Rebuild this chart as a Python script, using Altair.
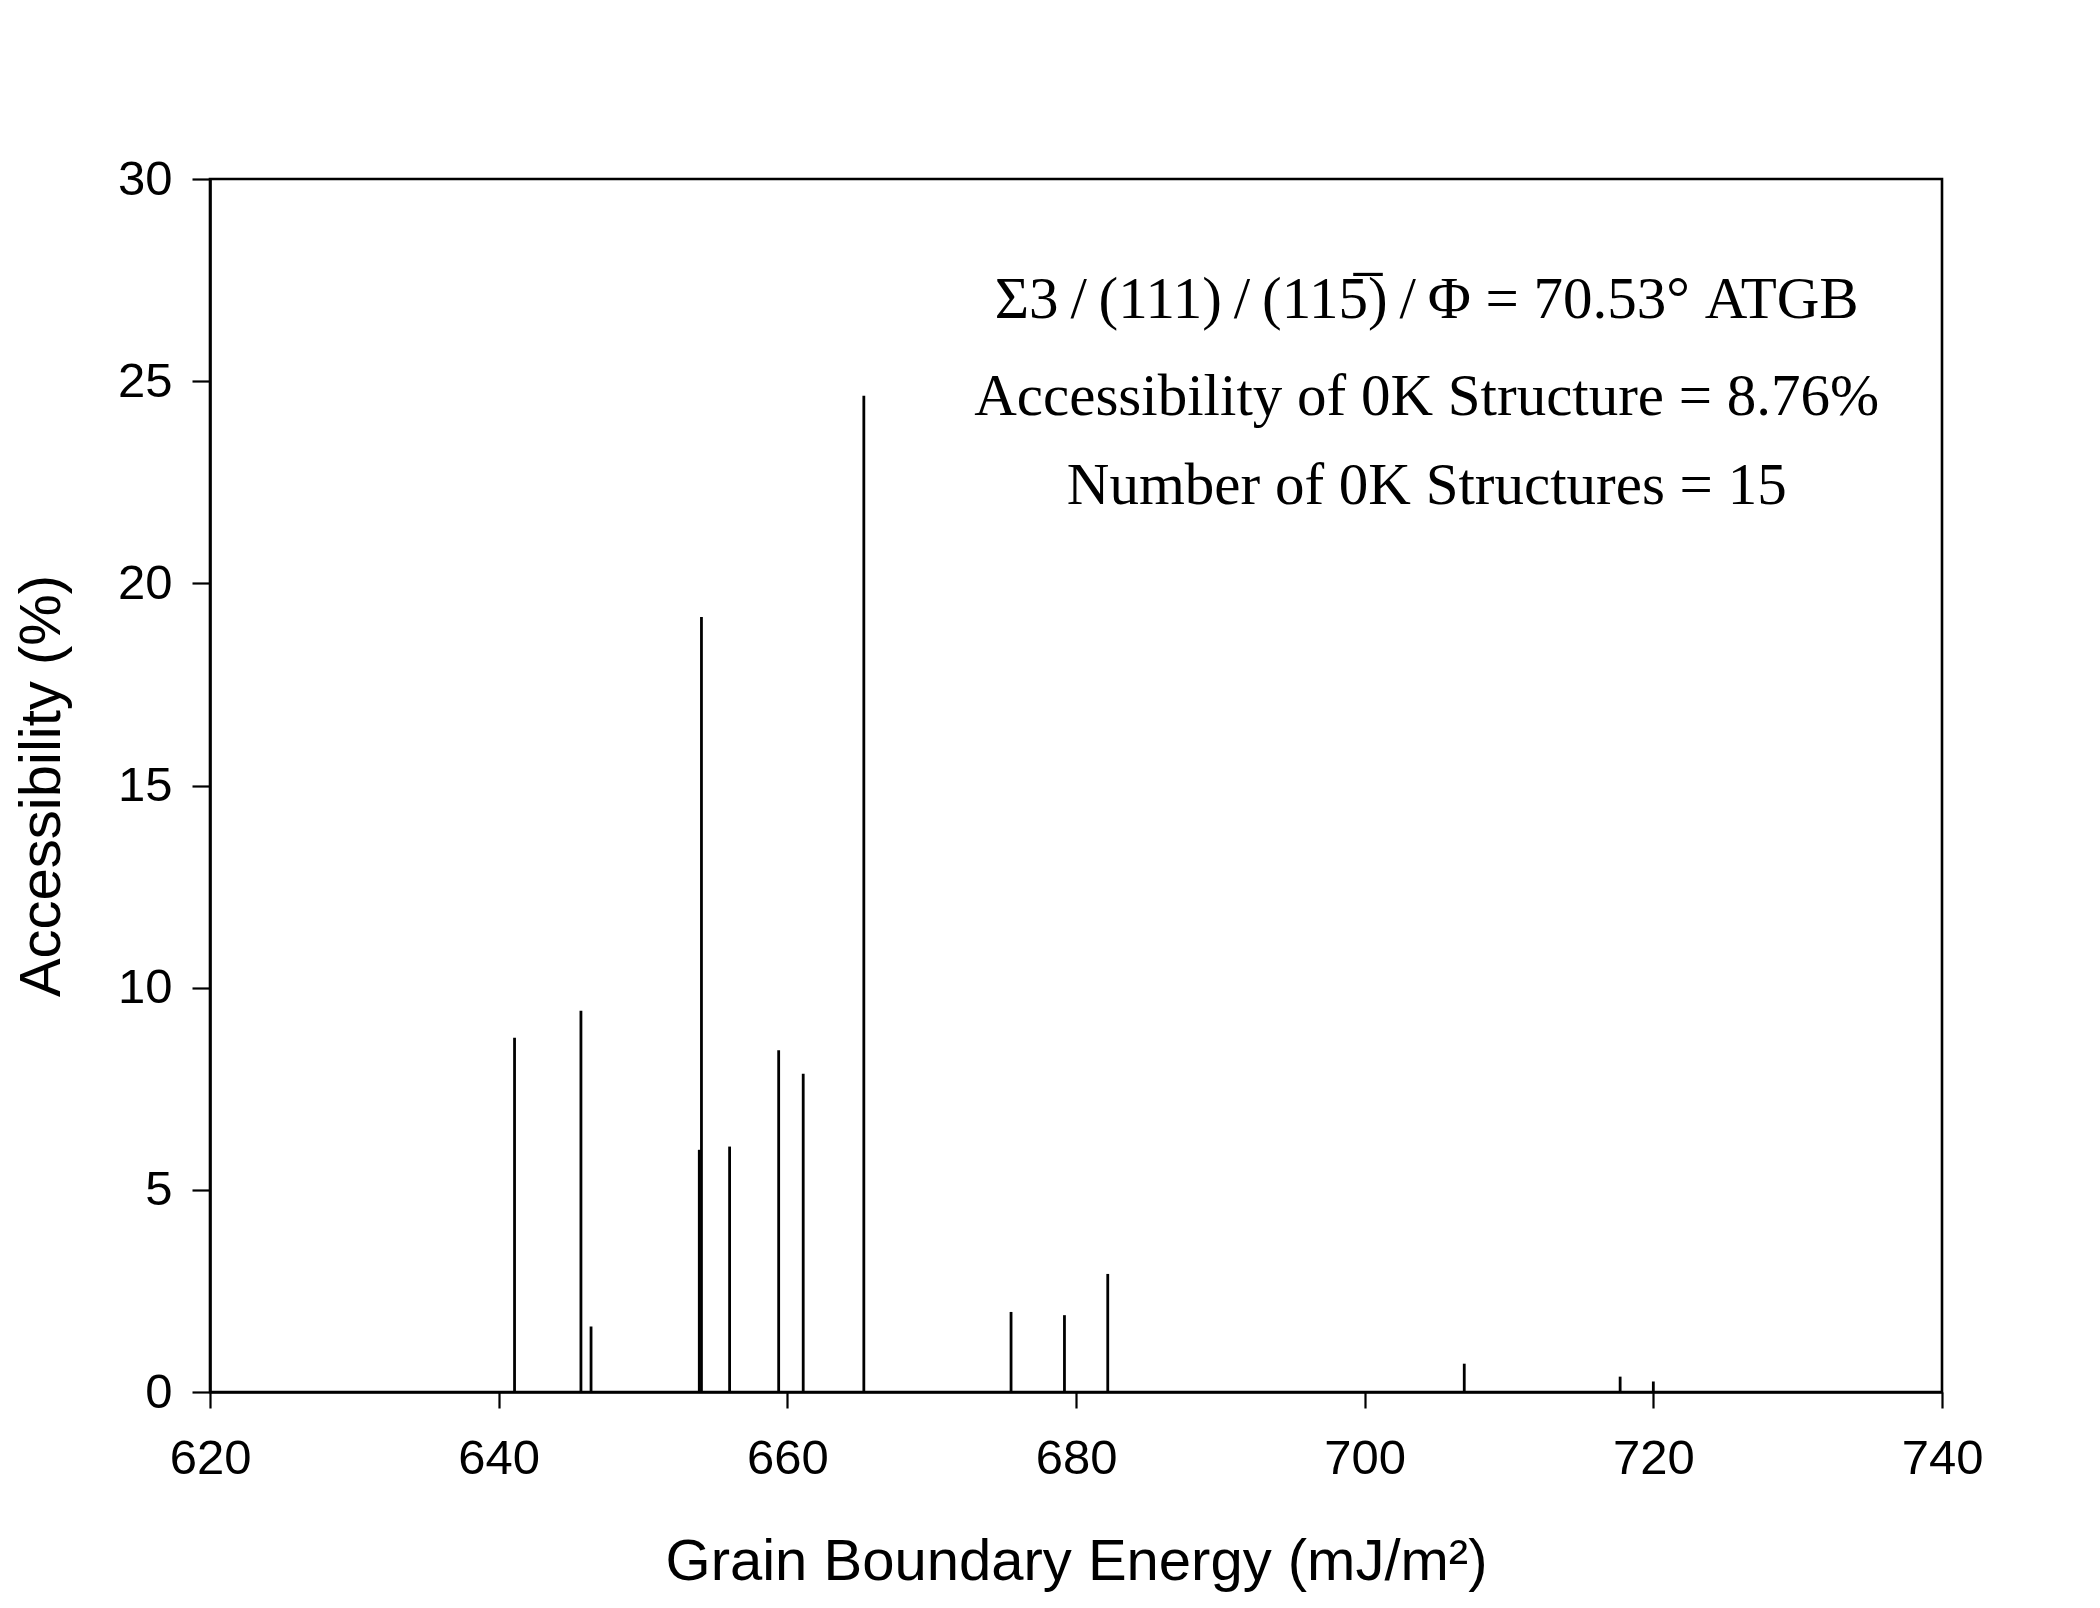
import altair as alt
import pandas as pd

# Data
energy = [641.1, 645.7, 646.4, 653.9, 654.05, 656.0, 659.4, 661.1, 665.3,
          675.5, 679.2, 682.2, 706.9, 717.7, 720.0]
accessibility = [8.76, 9.43, 1.62, 5.99, 19.17, 6.07, 8.45, 7.87, 24.64,
                 1.98, 1.90, 2.92, 0.70, 0.38, 0.26]

note_lines = [
    "Σ3\u2009/\u2009(111)\u2009/\u2009(115\u0305)\u2009/\u2009Φ = 70.53° ATGB",
    "Accessibility of 0K Structure = 8.76%",
    "Number of 0K Structures = 15",
]
note_x = [704.3, 704.3, 704.3]
note_y = [27.0, 24.6, 22.4]

x_ticks = [620, 640, 660, 680, 700, 720, 740]
y_ticks = [0, 5, 10, 15, 20, 25, 30]

df = pd.DataFrame({"energy": energy, "acc": accessibility})
notes = pd.DataFrame({"text": note_lines, "x": note_x, "y": note_y})

sans = "Liberation Sans"
serif = "Liberation Serif"

x_enc = alt.X(
    "energy:Q",
    scale=alt.Scale(domain=[620, 740], nice=False, zero=False),
    axis=alt.Axis(
        values=x_ticks, title="Grain Boundary Energy (mJ/m²)", grid=False,
        labelFont=sans, labelFontSize=49, labelColor="black", labelPadding=26,
        labelFlush=False, labelOverlap=False,
        tickSize=16, tickWidth=2.2, tickColor="black",
        domainColor="black", domainWidth=2.6,
        titleFont=sans, titleFontSize=58, titleFontWeight="normal",
        titleColor="black", titlePadding=50,
    ),
)
y_enc = alt.Y(
    "acc:Q",
    scale=alt.Scale(domain=[0, 30], nice=False),
    axis=alt.Axis(
        values=y_ticks, title="Accessibility (%)", grid=False,
        labelFont=sans, labelFontSize=49, labelColor="black", labelPadding=20,
        labelFlush=False, labelOverlap=False,
        tickSize=18, tickWidth=2.2, tickColor="black",
        domainColor="black", domainWidth=2.6,
        titleFont=sans, titleFontSize=58, titleFontWeight="normal",
        titleColor="black", titlePadding=46,
    ),
)

bars = alt.Chart(df).mark_rule(color="black", strokeWidth=2.8).encode(
    x=x_enc, y=y_enc, y2=alt.datum(0)
)

text = alt.Chart(notes).mark_text(
    font=serif, fontSize=59, color="black", align="center", baseline="middle"
).encode(
    x=alt.X("x:Q"), y=alt.Y("y:Q"), text="text:N"
)

chart = (
    alt.layer(bars, text)
    .properties(
        width=1732, height=1213,
        padding={"left": 202, "top": 171, "right": 150, "bottom": 200},
        autosize=alt.AutoSizeParams(type="none"),
        background="white",
    )
    .configure_view(stroke="black", strokeWidth=2.6)
)

chart.save("out.html", embed_options={"renderer": "svg", "actions": False})
